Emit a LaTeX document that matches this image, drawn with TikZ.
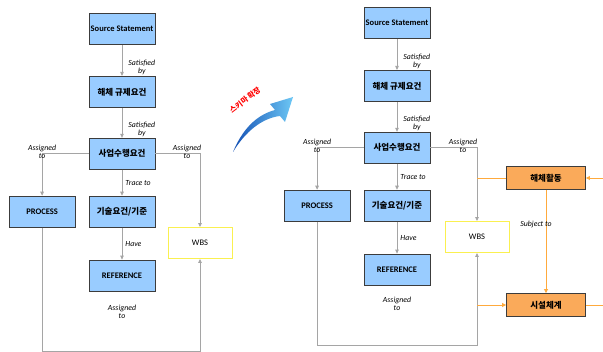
\documentclass[tikz,border=0pt]{standalone}
\usepackage{fontspec}
\setmainfont{Carlito}
\newfontfamily\kr{Noto Sans CJK KR}
\usepackage{xcolor}
\usetikzlibrary{arrows.meta,positioning,calc}

\definecolor{boxblue}{RGB}{153,204,255}
\definecolor{boxline}{RGB}{60,60,60}
\definecolor{boxorange}{RGB}{250,170,90}
\definecolor{lineorange}{RGB}{255,170,60}
\definecolor{linegray}{RGB}{165,165,165}
\definecolor{wbsyellow}{RGB}{250,240,80}
\definecolor{swooshdark}{RGB}{20,80,180}
\definecolor{swooshlight}{RGB}{110,200,245}

\begin{document}
\begin{tikzpicture}[x=1pt, y=-1pt,
  node distance=31pt and 13pt,
  box/.style={draw=boxline, line width=0.9pt, fill=boxblue, minimum width=66pt,
    minimum height=31pt, inner sep=0pt, font=\bfseries\fontsize{8.5}{9}\selectfont},
  obox/.style={box, fill=boxorange, minimum width=79pt, minimum height=23pt},
  wbox/.style={draw=wbsyellow, line width=0.9pt, fill=white, minimum width=64pt,
    minimum height=31pt, inner sep=0pt, font=\fontsize{8.5}{9}\selectfont},
  lab/.style={font=\itshape\fontsize{7.8}{8}\selectfont, align=center, inner sep=1pt},
  arr/.style={-{Triangle[length=4pt,width=3.5pt]}, draw=linegray, line width=0.8pt},
  oarr/.style={-{Triangle[length=4pt,width=4pt]}, draw=lineorange, line width=0.8pt},
  oline/.style={draw=lineorange, line width=0.8pt}
]
\useasboundingbox (0,0) rectangle (603,352);

% left panel
\node[box] (src) at (122,29) {Source Statement};
\node[box, below=of src] (reg) {\kr 해체 규제요건};
\node[box, below=30pt of reg] (biz) {\kr 사업수행요건};
\node[box, below=26pt of biz] (tech) {\kr 기술요건/기준};
\node[box, below=32pt of tech] (ref) {REFERENCE};
\node[box, left=of tech] (proc) {PROCESS};
\node[wbox] (wbs) at (200,243) {WBS};
\node[lab, below=12pt of ref] (asg) {Assigned\\to};

\draw[arr] (src) -- node[lab, right, xshift=5pt, yshift=-7pt] {Satisfied\\by} (reg);
\draw[arr] (reg) -- node[lab, right, xshift=5pt, yshift=-7pt] {Satisfied\\by} (biz);
\draw[arr] (biz) -- node[lab, right, xshift=2pt] {Trace to} (tech);
\draw[arr] (tech) -- node[lab, right, xshift=2pt] {Have} (ref);
\draw[arr] (biz.west) -| node[lab, yshift=2pt] {Assigned\\to} (proc.north);
\draw[arr] (biz.east) -| node[lab, xshift=-13pt, yshift=2pt] {Assigned\\to} (wbs.north);
\draw[arr] (proc.south) -- ++(0,124) -| (wbs.south);

% arrow between the panels
\shade[left color=swooshdark, right color=swooshlight]
  (233,152) .. controls (242,130) and (256,115) .. (275,110) -- (270,104)
  -- (293,97) -- (285,122) -- (280,116)
  .. controls (262,118) and (245,132) .. (233,152) -- cycle;
\node[text=red, rotate=37, font=\kr\bfseries\fontsize{7.5}{8}\selectfont] (tag) at (245,100) {스키마 확장};

% right panel
\node[box] (rsrc) at (397,23) {Source Statement};
\node[box, below=of rsrc] (rreg) {\kr 해체 규제요건};
\node[box, below=30pt of rreg] (rbiz) {\kr 사업수행요건};
\node[box, below=26pt of rbiz] (rtech) {\kr 기술요건/기준};
\node[box, below=32pt of rtech] (rref) {REFERENCE};
\node[box, left=of rtech] (rproc) {PROCESS};
\node[wbox] (rwbs) at (477,237) {WBS};
\node[lab, below=10pt of rref] (rasg) {Assigned\\to};
\node[obox] (act) at (546,178) {\kr 해체활동};
\node[obox] (fac) at (546,305) {\kr 시설체계};
\coordinate (actin) at (603,178);
\coordinate (facout) at (603,305);

\draw[arr] (rsrc) -- node[lab, right, xshift=5pt, yshift=-7pt] {Satisfied\\by} (rreg);
\draw[arr] (rreg) -- node[lab, right, xshift=5pt, yshift=-7pt] {Satisfied\\by} (rbiz);
\draw[arr] (rbiz) -- node[lab, right, xshift=2pt] {Trace to} (rtech);
\draw[arr] (rtech) -- node[lab, right, xshift=2pt] {Have} (rref);
\draw[arr] (rbiz.west) -| node[lab, yshift=2pt] {Assigned\\to} (rproc.north);
\draw[arr] (rbiz.east) -| node[lab, xshift=-14pt, yshift=2pt] {Assigned\\to} (rwbs.north);
\draw[arr] (rproc.south) -- ++(0,124) -| (rwbs.south);

\draw[oline] (act.west) -- (act.west -| rwbs);
\draw[oarr] (actin) -- (act.east);
\draw[oarr] (act) -- node[lab, xshift=-10pt, yshift=17pt] {Subject to} (fac);
\draw[oarr] (rwbs.south |- fac) -- (fac.west);
\draw[oline] (fac.east) -- (facout);
\end{tikzpicture}
\end{document}
